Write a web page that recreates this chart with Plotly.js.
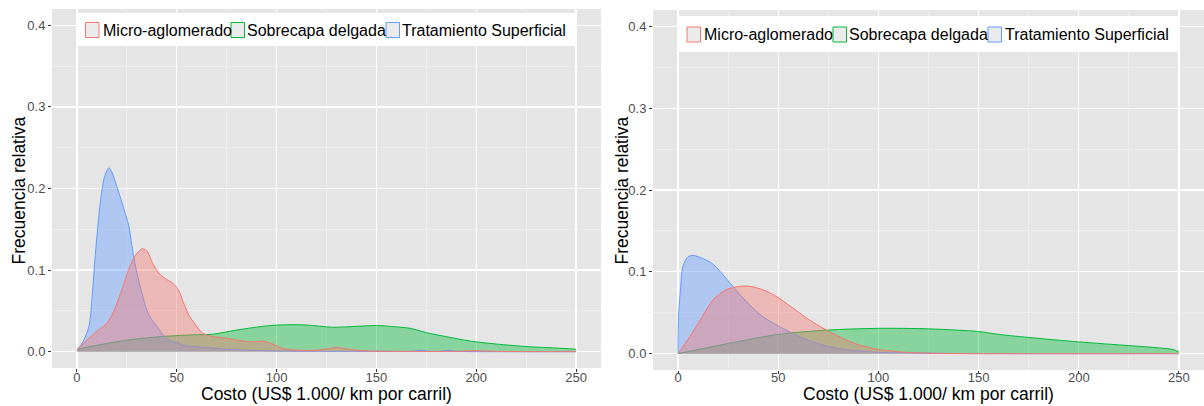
<!DOCTYPE html>
<html>
<head>
<meta charset="utf-8">
<script src="https://cdn.plot.ly/plotly-3.0.1.min.js"></script>
<style>html,body{margin:0;padding:0;background:#fff;}#chart{width:1204px;height:406px;}</style>
</head>
<body>
<div id="chart"></div>
<script>
// ---- data ----
const seriesNames = ["Micro-aglomerado", "Sobrecapa delgada", "Tratamiento Superficial"];
const xTicks = [0, 50, 100, 150, 200, 250];
const yTicks = [0, 0.1, 0.2, 0.3, 0.4];
const xTitle = "Costo (US$ 1.000/ km por carril)";
const yTitle = "Frecuencia relativa";

// left panel
const leftMicroX = [0,5,10,15,18,22.5,26,29,32.5,35,38,41.5,45,48,51,53,56.5,60,63,68,75,81.5,88,93,98,103,110,118,124,130,136,145,160,190,200,210,250];
const leftMicroY = [0.002,0.014,0.025,0.035,0.047,0.076,0.101,0.117,0.126,0.1235,0.108,0.095,0.0885,0.084,0.075,0.062,0.043,0.031,0.0226,0.0185,0.0165,0.0136,0.012,0.013,0.0095,0.004,0.002,0.0015,0.003,0.005,0.003,0.001,0.0005,0.0005,0.0012,0.0004,0];
const leftSobreX = [0,15,28,42,58,68,80,96,105,115,128,140,150,162,167,175,185,197,210,226,240,250];
const leftSobreY = [0.003,0.010,0.015,0.0185,0.0206,0.0214,0.0265,0.0319,0.033,0.0327,0.030,0.031,0.032,0.030,0.0286,0.0233,0.0184,0.013,0.0094,0.0061,0.0045,0.003];
const leftTratX = [0,3,6,7.5,9,11,12.5,14,16,17.5,19.5,21.5,24,26,27.5,30,32.5,35,37.5,40,42.5,45,47.5,50,52.5,55,60,65,75,85,98,120,150,168,172,176,183,186,190,210,250];
const leftTratY = [0.002,0.012,0.031,0.064,0.113,0.167,0.198,0.216,0.2255,0.22,0.206,0.191,0.171,0.154,0.13,0.097,0.072,0.051,0.039,0.031,0.023,0.0165,0.0125,0.0115,0.0082,0.007,0.006,0.005,0.003,0.002,0.001,0.0005,0.0005,0.0005,0.0018,0.0005,0.0005,0.0018,0.0005,0,0];

// right panel
const rightMicroX = [0,5.8,11.6,17.5,24,30.8,35.8,42.4,49,57.4,65.7,74,82.3,90.7,100.6,114,130,145,250];
const rightMicroY = [0,0.0206,0.0432,0.0658,0.078,0.0823,0.0823,0.078,0.070,0.0556,0.041,0.0288,0.0185,0.0103,0.0049,0.0016,0.0004,0,0];
const rightSobreX = [0,25,50,75,100,125,150,160,177,200,225,240,247,250];
const rightSobreY = [0,0.0123,0.0235,0.0288,0.0309,0.0303,0.027,0.0235,0.0193,0.0143,0.0098,0.007,0.005,0.002];
const rightTratX = [0,0.2,1.2,2.5,5,7.5,11.6,16.6,21.6,27.4,34,42.4,50.7,59,67.4,75.7,84,97,114,140,250];
const rightTratY = [0,0.045,0.078,0.107,0.1185,0.120,0.117,0.111,0.099,0.082,0.064,0.045,0.033,0.0226,0.0144,0.0082,0.0049,0.002,0.001,0.0002,0];

// ---- styling ----
const lineColors = ["#F8766D", "#00BA38", "#619CFF"];
const fillColors = ["rgba(248,118,109,0.4)", "rgba(0,186,56,0.4)", "rgba(97,156,255,0.42)"];
const FONT = '"Liberation Sans", Arial, sans-serif';

function area(x, y, i, xa, ya) {
  return {
    type: 'scatter', mode: 'lines', x: x, y: y, xaxis: xa, yaxis: ya,
    fill: 'tozeroy', fillcolor: fillColors[i],
    line: {color: lineColors[i], width: 1, shape: 'spline', smoothing: 0.8},
    name: seriesNames[i], showlegend: false, hoverinfo: 'x+y+name'
  };
}

const data = [
  area(leftSobreX, leftSobreY, 1, 'x', 'y'),
  area(leftTratX, leftTratY, 2, 'x', 'y'),
  area(leftMicroX, leftMicroY, 0, 'x', 'y'),
  area(rightSobreX, rightSobreY, 1, 'x2', 'y2'),
  area(rightTratX, rightTratY, 2, 'x2', 'y2'),
  area(rightMicroX, rightMicroY, 0, 'x2', 'y2')
];

const W = 1204, H = 406;
const px = v => v / W;
const py = v => 1 - v / H;

function xAxis(dom, anchor, standoff) {
  return {
    domain: dom, anchor: anchor, range: [-12.5, 262.5], tickvals: xTicks, ticktext: xTicks.map(String),
    ticks: 'outside', ticklen: 3, tickwidth: 1, tickcolor: '#333333', ticklabelstandoff: standoff,
    tickfont: {family: FONT, size: 13, color: '#4D4D4D'},
    showgrid: true, gridcolor: '#FFFFFF', gridwidth: 1.2, zeroline: false, showline: false,
    minor: {dtick: 25, tick0: 0, showgrid: true, gridcolor: '#F4F4F4', gridwidth: 0.6, ticks: ''},
    fixedrange: true
  };
}
function yAxis(dom, anchor) {
  return {
    domain: dom, range: [-0.02, 0.42], anchor: anchor, tickvals: yTicks, ticktext: yTicks.map(v => v.toFixed(1)),
    ticks: 'outside', ticklen: 3, tickwidth: 1, tickcolor: '#333333',
    tickfont: {family: FONT, size: 13, color: '#4D4D4D'},
    showgrid: true, gridcolor: '#FFFFFF', gridwidth: 1.2, zeroline: false, showline: false,
    minor: {dtick: 0.05, tick0: 0, showgrid: true, gridcolor: '#F4F4F4', gridwidth: 0.6, ticks: ''},
    fixedrange: true
  };
}

const shapes = [], annotations = [];

// axis titles
function titles(cx, cyX, yx, yy) {
  annotations.push({xref: 'paper', yref: 'paper', x: px(cx), y: py(cyX), xanchor: 'center', yanchor: 'middle',
    text: xTitle, showarrow: false, font: {family: FONT, size: 17.5, color: '#000'}});
  annotations.push({xref: 'paper', yref: 'paper', x: px(yx), y: py(yy), xanchor: 'center', yanchor: 'middle',
    text: yTitle, textangle: -90, showarrow: false, font: {family: FONT, size: 17.5, color: '#000'}});
}
titles(326.5, 393.5, 18.5, 191);
titles(928.5, 394, 621, 190.5);

// legend boxes (drawn as shapes + text)
function legendBox(x0, x1, y0, y1, keys, texts, ty) {
  shapes.push({type: 'rect', xref: 'paper', yref: 'paper', x0: px(x0), x1: px(x1), y0: py(y1), y1: py(y0),
    fillcolor: '#FFFFFF', line: {width: 0}, layer: 'above'});
  for (let i = 0; i < 3; i++) {
    shapes.push({type: 'rect', xref: 'paper', yref: 'paper', x0: px(keys[i]), x1: px(keys[i] + 13.5),
      y0: py(ty + 7.5), y1: py(ty - 7.5), fillcolor: '#EBEBEB', line: {color: lineColors[i], width: 1}, layer: 'above'});
    annotations.push({xref: 'paper', yref: 'paper', x: px(texts[i]), y: py(ty), xanchor: 'left', yanchor: 'middle',
      text: seriesNames[i], showarrow: false, font: {family: FONT, size: 16, color: '#000'}});
  }
}
legendBox(77, 576, 13, 46, [85.5, 231, 386], [100.5, 245, 400.5], 30);
legendBox(679, 1179, 16, 52, [687, 833, 988], [701.5, 847, 1002.5], 34.5);

const layout = {
  width: W, height: H,
  margin: {l: 0, r: 0, t: 0, b: 0},
  paper_bgcolor: '#FFFFFF', plot_bgcolor: '#E5E5E5',
  showlegend: false,
  xaxis: xAxis([px(52), px(601)], 'y', -6),
  yaxis: yAxis([py(368), py(9)], 'x'),
  xaxis2: xAxis([px(653), 1], 'y2', -8),
  yaxis2: yAxis([py(370), py(10)], 'x2'),
  shapes: shapes, annotations: annotations,
  font: {family: FONT}
};

Plotly.newPlot('chart', data, layout, {displayModeBar: false, staticPlot: true});
</script>
</body>
</html>
